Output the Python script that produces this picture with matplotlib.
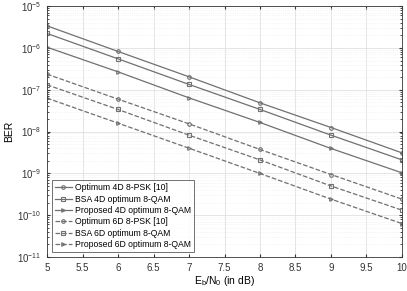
import matplotlib
matplotlib.use('Agg')
from matplotlib import pyplot as plt
from matplotlib.ticker import LogLocator, NullFormatter, MultipleLocator, FormatStrFormatter

plt.rcParams['font.family'] = ['Liberation Sans', 'DejaVu Sans']

ebn0 = [5, 6, 7, 8, 9, 10]

opt4d_psk = [3.38e-6, 8.24e-7, 2.04e-7, 4.86e-8, 1.25e-8, 3.09e-9]
bsa4d_qam = [2.22e-6, 5.48e-7, 1.34e-7, 3.38e-8, 8.2e-9, 2.1e-9]
prop4d_qam = [1.04e-6, 2.68e-7, 6.4e-8, 1.65e-8, 3.94e-9, 1.03e-9]
opt6d_psk = [2.36e-7, 5.96e-8, 1.53e-8, 3.73e-9, 9.4e-10, 2.42e-10]
bsa6d_qam = [1.31e-7, 3.38e-8, 8.2e-9, 2.1e-9, 5.0e-10, 1.32e-10]
prop6d_qam = [6.3e-8, 1.59e-8, 4.0e-9, 9.95e-10, 2.42e-10, 6.3e-11]

labels = ['Optimum 4D 8-PSK [10]', 'BSA 4D optimum 8-QAM',
          'Proposed 4D optimum 8-QAM', 'Optimum 6D 8-PSK [10]',
          'BSA 6D optimum 8-QAM', 'Proposed 6D optimum 8-QAM']

fig = plt.figure(figsize=(4.07, 2.91), dpi=100)
ax = fig.add_axes([0.1155, 0.1168, 0.8722, 0.8622])

c = '#707070'
series = [opt4d_psk, bsa4d_qam, prop4d_qam, opt6d_psk, bsa6d_qam, prop6d_qam]
markers = ['o', 's', '>', 'o', 's', '>']
styles = ['-', '-', '-', '--', '--', '--']
for s, m, ls, lab in zip(series, markers, styles, labels):
    ax.semilogy(ebn0, s, linestyle=ls, marker=m, color=c, lw=0.9,
                markersize=2.6, markerfacecolor='none', markeredgewidth=0.8,
                label=lab)

ax.set_xlim(5, 10)
ax.set_ylim(1e-11, 1e-5)
ax.xaxis.set_major_locator(MultipleLocator(0.5))
ax.xaxis.set_major_formatter(FormatStrFormatter('%g'))
ax.yaxis.set_major_locator(LogLocator(base=10, numticks=10))
ax.yaxis.set_minor_locator(LogLocator(base=10, subs=range(2, 10), numticks=20))
ax.yaxis.set_minor_formatter(NullFormatter())
ax.grid(True, which='major', color='#e0e0e0', lw=0.6)
ax.grid(True, which='minor', axis='y', color='#ececec', lw=0.5, linestyle=':')
ax.tick_params(which='both', direction='in', top=True, right=True,
               labelsize=7, colors='#333333', length=2.5, pad=4)
ax.tick_params(which='minor', length=1.5)
for sp in ax.spines.values():
    sp.set_color('#333333')
    sp.set_linewidth(0.6)

ax.set_xlabel('E$_\\mathregular{b}$/N$_\\mathregular{0}$ (in dB)', fontsize=7.5, labelpad=1)
ax.set_ylabel('BER', fontsize=7.5, labelpad=2)

leg = ax.legend(loc='lower left', fontsize=6.2, frameon=True, fancybox=False,
                edgecolor='#333333', borderpad=0.35, labelspacing=0.28,
                handlelength=2.0, handletextpad=0.3, borderaxespad=0.55)
leg.get_frame().set_linewidth(0.6)

fig.savefig('out.png', dpi=100)
